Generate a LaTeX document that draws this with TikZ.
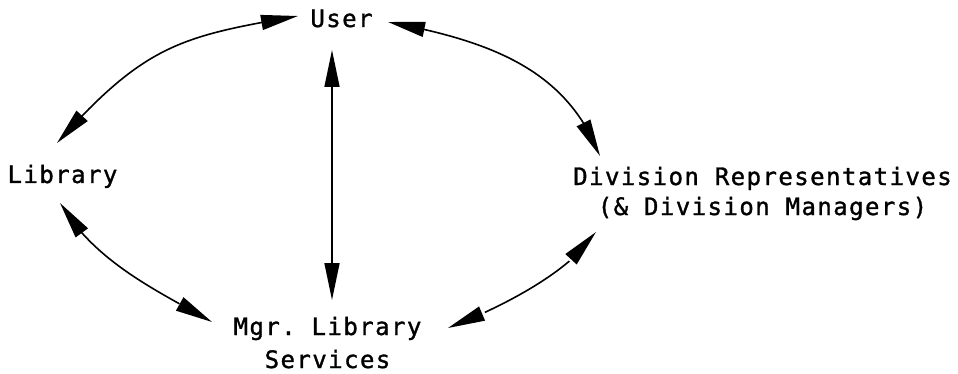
\documentclass[tikz,border=0pt]{standalone}
\usepackage{fontspec}
\setmonofont{DejaVu Sans Mono}[LetterSpace=6,FakeBold=1.3]
\usetikzlibrary{arrows.meta,bending,calc}
\tikzset{
  lbl/.style={inner sep=0pt, anchor=base, align=center, font=\ttfamily\fontsize{24}{30}\selectfont},
  lbltwo/.style={lbl, font=\ttfamily\fontsize{24}{33}\selectfont},
  biarrow/.style={line width=1.6pt,
    {Triangle[length=37pt,width=15pt]}-{Triangle[length=37pt,width=15pt]}}
}
\begin{document}
\begin{tikzpicture}[x=1pt,y=-1pt]
\useasboundingbox (0,0) rectangle (958,374);
\node[lbl] (user) at (341.5,27) {User};
\node[lbl] (lib) at (62.5,183) {Library};
% base anchor of a two-line node = baseline of its last line
\node[lbl] (div) at (762.5,215) {Division Representatives\\(\&~Division Managers)};
\node[lbltwo] (mgr) at (327.5,368) {Mgr. Library\\Services};
% User <-> Library
\draw[biarrow] ($(lib.base)+(-5.5,-40)$) .. controls +(88.4,-99.1) and +(-116.5,20.3) .. ($(user.base)+(-43.5,-11)$);
% User <-> Division
\draw[biarrow] ($(user.base)+(46.5,-5)$) .. controls +(108,20) and +(-33,-84) .. ($(div.base)+(-162.5,-59)$);
% User <-> Mgr
\draw[biarrow] ($(user.base)+(-9.5,23)$) -- ($(mgr.base)+(4.5,-68)$);
% Library <-> Mgr
\draw[biarrow] ($(lib.base)+(-2.5,20)$) .. controls +(35.5,60.3) and +(-52,-30) .. ($(mgr.base)+(-115.5,-46)$);
% Division <-> Mgr
\draw[biarrow] ($(div.base)+(-166.5,17)$) .. controls +(-27,42) and +(47,-18) .. ($(mgr.base)+(120.5,-40)$);
\end{tikzpicture}
\end{document}
